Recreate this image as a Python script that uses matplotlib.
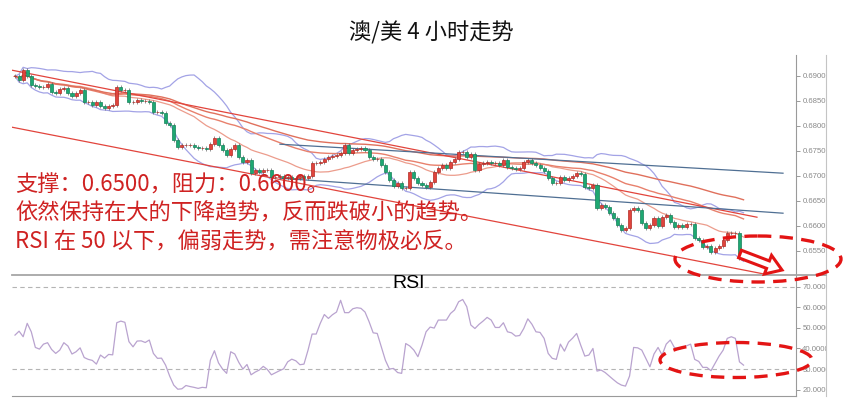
import matplotlib
matplotlib.use('Agg')
import matplotlib.pyplot as plt
import numpy as np
import pandas as pd
from matplotlib.patches import Ellipse, FancyArrow, Rectangle

W, H = 844, 413

title = '澳/美 4 小时走势'
notes = ['支撑：0.6500，阻力：0.6600。',
         '依然保持在大的下降趋势，反而跌破小的趋势。',
         'RSI 在 50 以下，偏弱走势，需注意物极必反。']
rsi_label = 'RSI'

closes = [
    0.6899, 0.6891, 0.6911, 0.6899, 0.6881, 0.6879, 0.6877, 0.6877, 0.6883, 0.6867,
    0.6865, 0.6873, 0.6875, 0.6865, 0.6859, 0.6865, 0.6871, 0.6847, 0.6847, 0.6841,
    0.6847, 0.6839, 0.6835, 0.6839, 0.6841, 0.6877, 0.6871, 0.6871, 0.6847, 0.6847,
    0.6851, 0.6849, 0.6849, 0.6847, 0.6827, 0.6827, 0.6825, 0.6805, 0.6801, 0.6771,
    0.6757, 0.6761, 0.6761, 0.6761, 0.6757, 0.6755, 0.6755, 0.6753, 0.6763, 0.6775,
    0.6761, 0.6751, 0.6741, 0.6753, 0.6761, 0.6737, 0.6727, 0.6731, 0.6705, 0.6711,
    0.6707, 0.6711, 0.6711, 0.6697, 0.6697, 0.6699, 0.6695, 0.6697, 0.6693, 0.6695,
    0.6699, 0.6695, 0.6699, 0.6725, 0.6725, 0.6727, 0.6733, 0.6737, 0.6739,
    0.6741, 0.6745, 0.6761, 0.6745, 0.6751, 0.6753, 0.6755, 0.6751, 0.6737, 0.6733,
    0.6733, 0.6721, 0.6707, 0.6691, 0.6679, 0.6685, 0.6675, 0.6675, 0.6707, 0.6695,
    0.6685, 0.6681, 0.6677, 0.6687, 0.6707, 0.6715, 0.6721, 0.6715, 0.6727, 0.6733,
    0.6747, 0.6747, 0.6737, 0.6743, 0.6711, 0.6723, 0.6725, 0.6727, 0.6725,
    0.6725, 0.6721, 0.6731, 0.6717, 0.6715, 0.6713, 0.6715, 0.6727, 0.6731, 0.6725,
    0.6721, 0.6715, 0.6709, 0.6695, 0.6685, 0.6685, 0.6697, 0.6691, 0.6695, 0.6699,
    0.6705, 0.6703, 0.6677, 0.6675, 0.6681, 0.6635, 0.6641, 0.6637, 0.6625, 0.6615,
    0.6601, 0.6591, 0.6595, 0.6631, 0.6635, 0.6631, 0.6605, 0.6595, 0.6601,
    0.6615, 0.6599, 0.6617, 0.6621, 0.6607, 0.6597, 0.6601, 0.6597, 0.6603, 0.6603,
    0.6575, 0.6571, 0.6557, 0.6559, 0.6547, 0.6555, 0.6559, 0.6571, 0.6585, 0.6585,
    0.6585, 0.6535, 0.6535,
]

rsi = [
    46.5, 48.4, 45.7, 52.2, 48.1, 40.5, 39.7, 42.1, 42.8, 39.5,
    37.6, 39.2, 42.8, 41.2, 37.3, 38.4, 40.3, 35.6, 34.7, 34.2,
    32.4, 36.8, 35.3, 37.1, 36.9, 52.5, 53.3, 52.7, 43.3, 40.8,
    43.6, 43.7, 42.9, 44.1, 37.6, 35.2, 35.3, 31.9, 26.6, 22.2,
    20.2, 20.4, 22.0, 21.5, 21.1, 20.6, 21.1, 20.9, 34.3, 38.9,
    33.0, 30.0, 27.9, 38.4, 37.3, 33.2, 30.0, 32.2, 27.2, 28.5,
    29.5, 31.3, 29.8, 27.2, 28.2, 29.2, 30.1, 33.5, 34.8, 34.0,
    32.1, 32.4, 39.2, 47.0, 47.0, 52.2, 56.5, 54.6, 56.4, 57.7,
    63.4, 57.4, 57.4, 59.3, 59.8, 59.5, 57.7, 53.0, 47.6, 47.3,
    40.8, 34.3, 30.0, 30.3, 28.3, 27.9, 42.4, 41.2, 39.2, 36.0,
    41.6, 48.1, 50.4, 49.9, 53.8, 53.8, 53.8, 57.0, 58.7, 62.7,
    63.8, 60.3, 51.4, 49.7, 51.7, 53.3, 55.1, 53.8, 50.2, 50.2,
    52.5, 48.1, 47.6, 46.0, 46.3, 49.7, 54.4, 51.8, 48.1, 47.8,
    44.9, 37.6, 35.2, 34.7, 42.1, 38.7, 43.1, 45.0, 47.3, 41.6,
    36.3, 36.8, 40.0, 29.0, 29.5, 28.3, 26.6, 24.9, 23.3, 22.2,
    21.7, 26.6, 40.5, 40.3, 39.2, 35.2, 31.1, 37.3, 40.5, 36.8,
    42.1, 44.1, 40.5, 39.5, 40.3, 41.3, 42.1, 34.7, 33.7, 30.8,
    30.8, 29.2, 32.7, 36.3, 39.2, 44.9, 45.7, 44.9, 33.5, 31.9,
]

price_ticks = [0.6550, 0.6600, 0.6650, 0.6700, 0.6750, 0.6800, 0.6850, 0.6900]
rsi_ticks = [20, 30, 40, 50, 60, 70]
rsi_levels = [30, 70]

# trend lines: (start index, start price, end index, end price)
red_channel = [(-0.74, 0.6911, 182.3, 0.6617),
               (-0.74, 0.6797, 184.3, 0.6503)]
blue_channel = [(65.1, 0.6763, 188.7, 0.6705),
                (65.1, 0.6695, 188.7, 0.6625)]

# ---------------------------------------------------------------
c = pd.Series(closes)
o = c.shift(1).fillna(c.iloc[0])
n = len(c)
x = np.arange(n)
body_lo = np.minimum(o, c)
body_hi = np.maximum(o, c)
wick = 0.0004

fig = plt.figure(figsize=(W / 100, H / 100), dpi=100)
fig.patch.set_facecolor('white')

ax = fig.add_axes([12 / W, 1 - 274 / H, 784 / W, 219 / H])
axr = fig.add_axes([12 / W, 1 - 396 / H, 784 / W, 121 / H])

xlim = ((12 - 15) / 4.07, (796 - 15) / 4.07)

# indicators
mid = c.rolling(20, min_periods=1).mean()
sd = c.rolling(20, min_periods=1).std(ddof=0)
ema1 = c.ewm(span=50, adjust=True).mean()
ema2 = c.ewm(span=100, adjust=True).mean()

bb_col = '#a3a3e6'
ax.plot(x, mid + 2 * sd, color=bb_col, lw=0.9, zorder=2)
ax.plot(x, mid - 2 * sd, color=bb_col, lw=0.9, zorder=2)
ax.plot(x, mid, color='#ec9c8c', lw=0.9, zorder=2)
ax.plot(x, ema1, color='#e8806c', lw=1.0, zorder=2)
ax.plot(x, ema2, color='#e0705c', lw=1.0, zorder=2)

for (x0, y0, x1, y1) in red_channel:
    ax.plot([x0, x1], [y0, y1], color='#e2443c', lw=0.9, zorder=2)
for (x0, y0, x1, y1) in blue_channel:
    ax.plot([x0, x1], [y0, y1], color='#4f6f93', lw=0.9, zorder=2)

up = (c >= o).values
cols = np.where(up, '#e0443c', '#1ea872')
edge = np.where(up, '#b02a25', '#14805a')
ax.vlines(x, body_lo - wick, body_hi + wick, color='#666666', lw=0.5, zorder=3)
ax.bar(x, body_hi - body_lo, bottom=body_lo, width=0.75, color=cols,
       edgecolor=edge, linewidth=0.5, zorder=4)

ax.set_xlim(*xlim)
ax.set_ylim(0.65034, 0.69414)
for s in ['top', 'left', 'bottom']:
    ax.spines[s].set_visible(False)
ax.spines['right'].set_color('#9a9a9a')
ax.spines['right'].set_linewidth(0.8)
ax.set_xticks([])
ax.yaxis.tick_right()
ax.set_yticks(price_ticks)
ax.set_yticklabels(['%.4f' % t for t in price_ticks])
ax.tick_params(axis='y', labelsize=5.6, colors='#8a8a8a', length=3, width=0.6, pad=1.5)
for t in ax.get_yticklabels():
    t.set_family('Liberation Sans')

# RSI panel
axr.plot(x, rsi, color='#b9a3cf', lw=0.9, zorder=3)
for lv in rsi_levels:
    axr.axhline(lv, color='#b4b4b4', lw=0.8, ls=(0, (4, 3)), zorder=1)
axr.set_xlim(*xlim)
axr.set_ylim(16.9, 75.7)
axr.spines['left'].set_visible(False)
axr.spines['top'].set_visible(False)
axr.spines['bottom'].set_color('#9a9a9a')
axr.spines['right'].set_color('#9a9a9a')
axr.spines['right'].set_linewidth(0.8)
axr.set_xticks([])
axr.yaxis.tick_right()
axr.set_yticks(rsi_ticks)
axr.set_yticklabels(['%.4f' % t for t in rsi_ticks])
axr.tick_params(axis='y', labelsize=5.6, colors='#8a8a8a', length=3, width=0.6, pad=1.5)
for t in axr.get_yticklabels():
    t.set_family('Liberation Sans')

# overlay in pixel coordinates
ov = fig.add_axes([0, 0, 1, 1], zorder=10)
ov.set_xlim(0, W)
ov.set_ylim(H, 0)
ov.axis('off')
ov.patch.set_alpha(0)

ov.add_patch(Rectangle((826.5, 50), 20, 360, facecolor='white', edgecolor='none', zorder=1))
ov.plot([826, 826], [55, 396], color='#c4c4c4', lw=0.8, zorder=2)
ov.plot([12, 826], [274.5, 274.5], color='#a6a6a6', lw=1.3, zorder=2)

ov.text(431, 33, title, ha='center', va='center', fontsize=16,
        family=['Noto Sans CJK SC', 'DejaVu Sans'], color='#111111')
for yy, s in zip([185, 213, 242], notes):
    ov.text(15, yy, s, ha='left', va='center', fontsize=16,
            family=['Noto Sans CJK SC', 'DejaVu Sans'], color='#cf2222', zorder=5)
ov.text(409, 283, rsi_label, ha='center', va='center', fontsize=14,
        family='Liberation Sans', color='black', zorder=5)

red = '#e31414'
ov.add_patch(Ellipse((758, 259), 166, 46, fill=False, ec=red, lw=2.4,
                     ls=(0, (4, 2.5)), zorder=6))
ov.add_patch(Ellipse((736, 360), 152, 35, fill=False, ec=red, lw=2.4,
                     ls=(0, (4, 2.5)), zorder=6))
ov.add_patch(FancyArrow(740, 254, 42, 16, width=8, head_width=20, head_length=15,
                        length_includes_head=True, facecolor='white', edgecolor=red,
                        lw=2.2, zorder=7))

fig.savefig('out.png', dpi=100, facecolor='white')
